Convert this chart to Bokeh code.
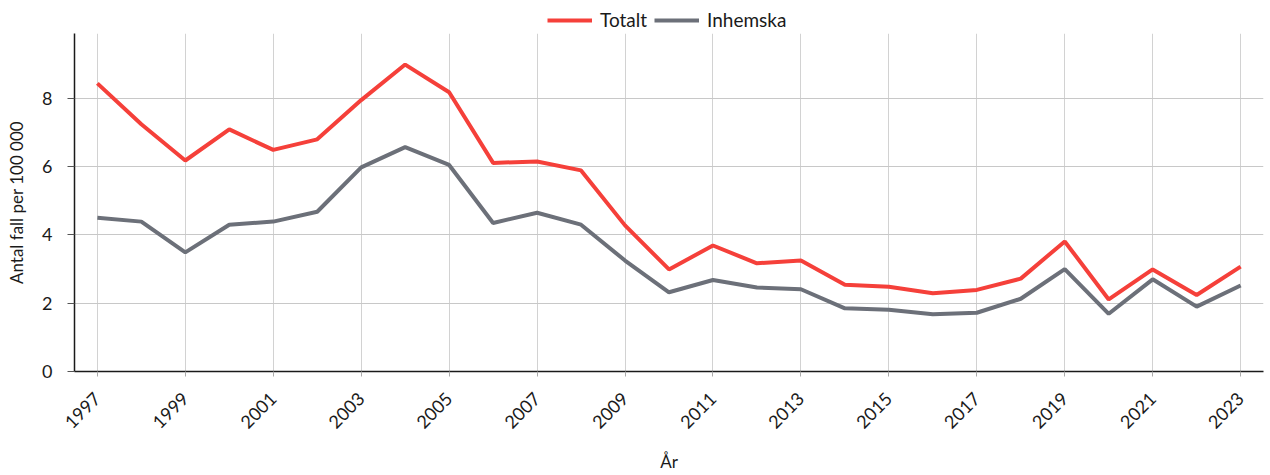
import math
from bokeh.plotting import figure
from bokeh.layouts import column
from bokeh.models import Range1d, FixedTicker, Legend, LegendItem
from bokeh.embed import file_html
from bokeh.resources import INLINE

years = list(range(1997, 2024))
totalt = [8.44, 7.24, 6.18, 7.09, 6.49, 6.80, 7.95, 8.99, 8.18, 6.11, 6.15, 5.89,
          4.28, 2.99, 3.69, 3.17, 3.25, 2.54, 2.48, 2.29, 2.39, 2.72, 3.81, 2.11,
          2.99, 2.24, 3.07]
inhemska = [4.50, 4.39, 3.49, 4.30, 4.39, 4.68, 5.98, 6.57, 6.05, 4.35, 4.65, 4.30,
            3.25, 2.32, 2.68, 2.46, 2.41, 1.85, 1.81, 1.68, 1.72, 2.13, 3.00, 1.69,
            2.70, 1.90, 2.52]
x_ticks = list(range(1997, 2024, 2))
y_ticks = [0, 2, 4, 6, 8]
series_names = ["Totalt", "Inhemska"]
x_label = "År"
y_label = "Antal fall per 100 000"

FONT = "Lato"
RED = "#F5403A"
GRAY = "#6C7079"
TXT = "#1a1a1a"

# ---- main chart ----
p = figure(width=1270, height=442, output_backend="svg", toolbar_location=None,
           x_range=Range1d(1996.48, 2023.52), y_range=Range1d(0, 9.9),
           min_border_left=74, min_border_right=7, min_border_top=0, min_border_bottom=104)
p.outline_line_color = None

p.line(years, totalt, line_color=RED, line_width=4)
p.line(years, inhemska, line_color=GRAY, line_width=4)

p.xaxis.ticker = FixedTicker(ticks=x_ticks)
p.yaxis.ticker = FixedTicker(ticks=y_ticks)
p.xaxis.minor_tick_line_color = None
p.yaxis.minor_tick_line_color = None

p.xgrid.ticker = FixedTicker(ticks=x_ticks)
p.xgrid.grid_line_color = "#d2d2d2"
p.ygrid.grid_line_color = "#c8c8c8"

for ax in (p.xaxis[0], p.yaxis[0]):
    ax.major_label_text_font = FONT
    ax.major_label_text_font_size = "18px"
    ax.major_label_text_color = TXT
    ax.axis_label_text_font = FONT
    ax.axis_label_text_font_size = "17px"
    ax.axis_label_text_font_style = "normal"
    ax.axis_label_text_color = TXT
    ax.axis_line_color = TXT
    ax.axis_line_width = 1.5
    ax.major_tick_in = 0

p.xaxis.major_tick_out = 5
p.yaxis.major_tick_out = 7
p.xaxis.major_tick_line_color = "#aaaaaa"
p.yaxis.major_tick_line_color = "#555555"
p.xaxis.major_label_orientation = math.pi / 4
p.xaxis.axis_label = x_label
p.yaxis.axis_label = y_label
p.xaxis.major_label_standoff = 19
p.xaxis.axis_label_standoff = 14
p.yaxis.major_label_standoff = 15
p.yaxis.axis_label_standoff = 12

# ---- legend strip on top ----
lg = figure(width=1270, height=33, output_backend="svg", toolbar_location=None,
            x_axis_type=None, y_axis_type=None,
            min_border_left=0, min_border_right=0, min_border_top=0, min_border_bottom=0)
lg.outline_line_color = None
lr1 = lg.line(years, totalt, line_color=RED, line_width=4)
lr2 = lg.line(years, inhemska, line_color=GRAY, line_width=4)
lr1.visible = False
lr2.visible = False

legend = Legend(items=[LegendItem(label=series_names[0], renderers=[lr1]),
                       LegendItem(label=series_names[1], renderers=[lr2])],
                orientation="horizontal", location=(473, 2),
                label_text_font=FONT, label_text_font_size="19px",
                label_text_color=TXT,
                glyph_width=45, glyph_height=20, label_standoff=8, spacing=7,
                padding=4, margin=0, border_line_color=None,
                background_fill_alpha=0)
lg.add_layout(legend, "center")

layout = column(lg, p, spacing=0)
open("out.html", "w").write(file_html(layout, INLINE))
